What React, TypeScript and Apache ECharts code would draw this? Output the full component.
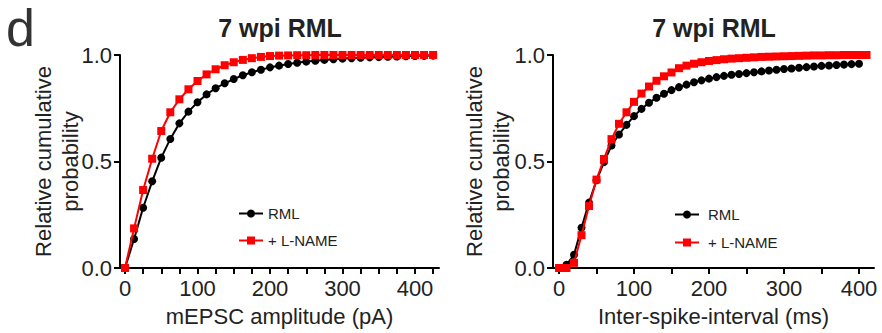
import React, { useEffect, useRef } from "react";
import * as echarts from "echarts";

const panelTitle = "7 wpi RML";
const panelLetter = "d";
const yAxisName = "Relative cumulative\nprobability";
const leftXName = "mEPSC amplitude (pA)";
const rightXName = "Inter-spike-interval (ms)";
const seriesNames = ["RML", "+ L-NAME"];

const yTicks = [0, 0.5, 1];
const leftTickValues = [0, 25, 50, 75, 100, 125, 150, 175, 200, 225, 250, 275, 300, 325, 350, 375, 400, 425];
const leftLabelValues = [0, 100, 200, 300, 400];
const rightTickValues = [0, 50, 100, 150, 200, 250, 300, 350, 400];
const rightLabelValues = [0, 100, 200, 300, 400];

const leftX = [0, 12.5, 25, 37.5, 50, 62.5, 75, 87.5, 100, 112.5, 125, 137.5, 150, 162.5, 175, 187.5, 200, 212.5, 225, 237.5, 250, 262.5, 275, 287.5, 300, 312.5, 325, 337.5, 350, 362.5, 375, 387.5, 400, 412.5, 425];
const leftRML = [0, 0.136, 0.283, 0.407, 0.518, 0.606, 0.679, 0.734, 0.778, 0.815, 0.844, 0.867, 0.887, 0.905, 0.919, 0.931, 0.942, 0.950, 0.958, 0.964, 0.969, 0.973, 0.977, 0.980, 0.983, 0.985, 0.987, 0.989, 0.990, 0.992, 0.993, 0.994, 0.995, 0.996, 0.997];
const leftLNAME = [0, 0.186, 0.366, 0.513, 0.643, 0.731, 0.792, 0.839, 0.878, 0.909, 0.933, 0.952, 0.966, 0.977, 0.985, 0.991, 0.995, 0.997, 0.998, 0.999, 0.999, 1, 1, 1, 1, 1, 1, 1, 1, 1, 1, 1, 1, 1, 1];

const rightX = [0, 10, 20, 30, 40, 50, 60, 70, 80, 90, 100, 110, 120, 130, 140, 150, 160, 170, 180, 190, 200, 210, 220, 230, 240, 250, 260, 270, 280, 290, 300, 310, 320, 330, 340, 350, 360, 370, 380, 390, 400, 410];
const rightRML = [0, 0.015, 0.062, 0.189, 0.307, 0.412, 0.497, 0.575, 0.627, 0.672, 0.713, 0.747, 0.776, 0.799, 0.818, 0.835, 0.849, 0.861, 0.872, 0.881, 0.889, 0.896, 0.902, 0.907, 0.911, 0.915, 0.919, 0.923, 0.927, 0.931, 0.934, 0.937, 0.940, 0.943, 0.946, 0.949, 0.951, 0.953, 0.955, 0.957, 0.959];
const rightLNAME = [0, 0, 0.024, 0.154, 0.291, 0.415, 0.512, 0.605, 0.677, 0.731, 0.780, 0.819, 0.852, 0.879, 0.900, 0.918, 0.938, 0.950, 0.959, 0.966, 0.972, 0.976, 0.980, 0.983, 0.985, 0.987, 0.989, 0.991, 0.992, 0.993, 0.994, 0.995, 0.996, 0.997, 0.998, 0.998, 0.999, 0.999, 1, 1, 1, 1];

const FONT = "'Liberation Sans', Arial, Helvetica, sans-serif";
const TEXT = "#222";

function zip(xs: number[], ys: number[]) {
  return ys.map((y, i) => [xs[i], y]);
}

function xAxis(gridIndex: number, min: number, max: number, ticks: number[], labels: number[], name: string) {
  return {
    type: "value",
    gridIndex,
    min,
    max,
    name,
    nameLocation: "middle",
    nameGap: 37,
    nameMoveOverlap: false,
    nameTextStyle: { fontFamily: FONT, fontSize: 22, color: TEXT },
    axisLine: { show: true, onZero: false, lineStyle: { color: "#000", width: 2 } },
    axisTick: { show: true, length: 6, inside: false, lineStyle: { color: "#000", width: 2 }, customValues: ticks },
    axisLabel: { show: true, margin: 9, fontFamily: FONT, fontSize: 22, color: TEXT, customValues: labels },
    splitLine: { show: false },
  };
}

function yAxis(gridIndex: number, nameGap: number) {
  return {
    type: "value",
    gridIndex,
    min: 0,
    max: 1,
    interval: 0.5,
    name: yAxisName,
    nameLocation: "middle",
    nameGap,
    nameMoveOverlap: false,
    nameTextStyle: { fontFamily: FONT, fontSize: 22, color: TEXT, lineHeight: 27 },
    axisLine: { show: true, onZero: false, lineStyle: { color: "#000", width: 2 } },
    axisTick: { show: true, length: 6, lineStyle: { color: "#000", width: 2 }, customValues: yTicks },
    axisLabel: { show: true, margin: 8, fontFamily: FONT, fontSize: 22, color: TEXT, formatter: (v: number) => v.toFixed(1) },
    splitLine: { show: false },
  };
}

function lineSeries(name: string, data: number[][], idx: number, black: boolean) {
  return {
    type: "line",
    name,
    xAxisIndex: idx,
    yAxisIndex: idx,
    data,
    clip: false,
    symbol: black ? "circle" : "rect",
    symbolSize: 8,
    showSymbol: true,
    lineStyle: { color: black ? "#000" : "#ff0000", width: 2 },
    itemStyle: { color: black ? "#000" : "#ff0000" },
    z: black ? 2 : 3,
  };
}

export default function App() {
  const ref = useRef<HTMLDivElement>(null);
  useEffect(() => {
    if (!ref.current) return;
    const chart = echarts.init(ref.current, null, { renderer: "svg" });
    const legendBase = {
      orient: "vertical",
      itemWidth: 24,
      itemHeight: 10,
      itemGap: 12,
      selectedMode: false,
      textStyle: { fontFamily: FONT, fontSize: 15, color: TEXT },
      data: seriesNames,
    };
    chart.setOption({
      animation: false,
      backgroundColor: "#fff",
      grid: [
        { left: 120, top: 55, width: 319, height: 213 },
        { left: 553, top: 55, width: 321, height: 213 },
      ],
      xAxis: [
        xAxis(0, -6.9, 433.1, leftTickValues, leftLabelValues, leftXName),
        xAxis(1, -8, 420, rightTickValues, rightLabelValues, rightXName),
      ],
      yAxis: [yAxis(0, 36), yAxis(1, 38)],
      legend: [
        { ...legendBase, left: 233, top: 201, itemGap: 12 },
        { ...legendBase, left: 669, top: 202, itemGap: 13, textStyle: { ...legendBase.textStyle, padding: [0, 0, 0, 4] } },
      ],
      graphic: [
        { type: "text", left: 6, top: 2, style: { text: panelLetter, font: `52px ${FONT}`, fill: "#333" } },
        { type: "text", x: 280, y: 28, style: { text: panelTitle, font: `bold 25px ${FONT}`, fill: TEXT, textAlign: "center", textVerticalAlign: "middle" } },
        { type: "text", x: 714, y: 28, style: { text: panelTitle, font: `bold 25px ${FONT}`, fill: TEXT, textAlign: "center", textVerticalAlign: "middle" } },
      ],
      series: [
        lineSeries(seriesNames[0], zip(leftX, leftRML), 0, true),
        lineSeries(seriesNames[1], zip(leftX, leftLNAME), 0, false),
        lineSeries(seriesNames[0], zip(rightX, rightRML), 1, true),
        lineSeries(seriesNames[1], zip(rightX, rightLNAME), 1, false),
      ],
    });
    return () => chart.dispose();
  }, []);
  return <div ref={ref} style={{ position: "fixed", left: 0, top: 0, width: 882, height: 333 }} />;
}
